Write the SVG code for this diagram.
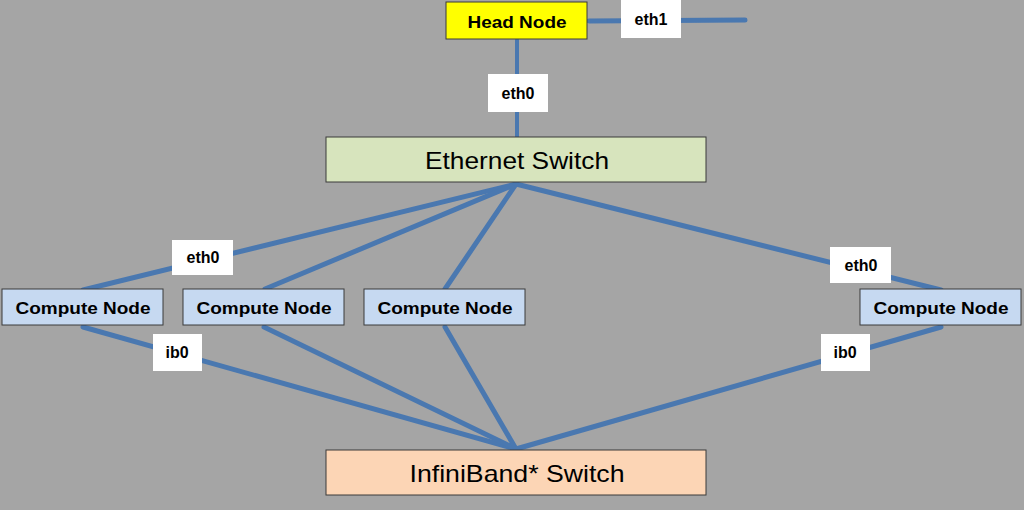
<svg xmlns="http://www.w3.org/2000/svg" width="1024" height="510" viewBox="0 0 1024 510">
<style>
.bg{fill:#a5a5a5}
.ln{stroke:#4a78b0;stroke-width:5;stroke-linecap:round;fill:none}
.box{stroke:#3a3a3a;stroke-width:1}
.lbl{fill:#ffffff}
.t{font-family:"Liberation Sans",Arial,sans-serif;fill:#000;text-anchor:middle}
.b{font-weight:bold;font-size:17px}
.s{font-weight:bold;font-size:16px}
.big{font-size:24px}
</style>
<rect class="bg" x="0" y="0" width="1024" height="510"/>
<g id="connectors">
<line class="ln" x1="589" y1="21" x2="745" y2="20"/>
<line class="ln" x1="517" y1="40" x2="517" y2="137" style="stroke-width:4"/>
<line class="ln" x1="516" y1="184" x2="83" y2="290"/>
<line class="ln" x1="516" y1="184" x2="265" y2="289"/>
<line class="ln" x1="516" y1="184" x2="445" y2="289"/>
<line class="ln" x1="516" y1="184" x2="941" y2="290"/>
<line class="ln" x1="83" y1="327" x2="516" y2="449"/>
<line class="ln" x1="264" y1="327" x2="516" y2="449"/>
<line class="ln" x1="445" y1="327" x2="516" y2="449"/>
<line class="ln" x1="941" y1="327" x2="516" y2="449"/>
</g>
<g id="head-node">
<rect class="box" x="446" y="2" width="141" height="37" fill="#ffff00"/>
<text class="t b" x="517" y="28" textLength="99" lengthAdjust="spacingAndGlyphs">Head Node</text>
</g>
<g id="label-eth1">
<rect class="lbl" x="621" y="0" width="60" height="38"/>
<text class="t s" x="651" y="25">eth1</text>
</g>
<g id="label-eth0-head">
<rect class="lbl" x="488" y="74" width="60" height="38"/>
<text class="t s" x="518" y="99">eth0</text>
</g>
<g id="ethernet-switch">
<rect class="box" x="326" y="137" width="380" height="45" fill="#d7e4bd"/>
<text class="t big" x="517" y="169" textLength="184" lengthAdjust="spacingAndGlyphs">Ethernet Switch</text>
</g>
<g id="label-eth0-cn1">
<rect class="lbl" x="172" y="240" width="61" height="35"/>
<text class="t s" x="203" y="263">eth0</text>
</g>
<g id="label-eth0-cn4">
<rect class="lbl" x="830" y="247" width="61" height="36"/>
<text class="t s" x="861" y="271">eth0</text>
</g>
<g id="compute-node-1">
<rect class="box" x="2" y="289" width="161" height="36" fill="#c6d9f1"/>
<text class="t b" x="83" y="314" textLength="135" lengthAdjust="spacingAndGlyphs">Compute Node</text>
</g>
<g id="compute-node-2">
<rect class="box" x="183" y="289" width="161" height="36" fill="#c6d9f1"/>
<text class="t b" x="264" y="314" textLength="135" lengthAdjust="spacingAndGlyphs">Compute Node</text>
</g>
<g id="compute-node-3">
<rect class="box" x="364" y="289" width="161" height="36" fill="#c6d9f1"/>
<text class="t b" x="445" y="314" textLength="135" lengthAdjust="spacingAndGlyphs">Compute Node</text>
</g>
<g id="compute-node-4">
<rect class="box" x="860" y="289" width="161" height="36" fill="#c6d9f1"/>
<text class="t b" x="941" y="314" textLength="135" lengthAdjust="spacingAndGlyphs">Compute Node</text>
</g>
<g id="label-ib0-cn1">
<rect class="lbl" x="153" y="334" width="49" height="37"/>
<text class="t s" x="177" y="358">ib0</text>
</g>
<g id="label-ib0-cn4">
<rect class="lbl" x="821" y="334" width="49" height="37"/>
<text class="t s" x="845" y="358">ib0</text>
</g>
<g id="infiniband-switch">
<rect class="box" x="326" y="450" width="380" height="45" fill="#fcd5b5"/>
<text class="t big" x="517" y="482" textLength="215" lengthAdjust="spacingAndGlyphs">InfiniBand* Switch</text>
</g>
</svg>
